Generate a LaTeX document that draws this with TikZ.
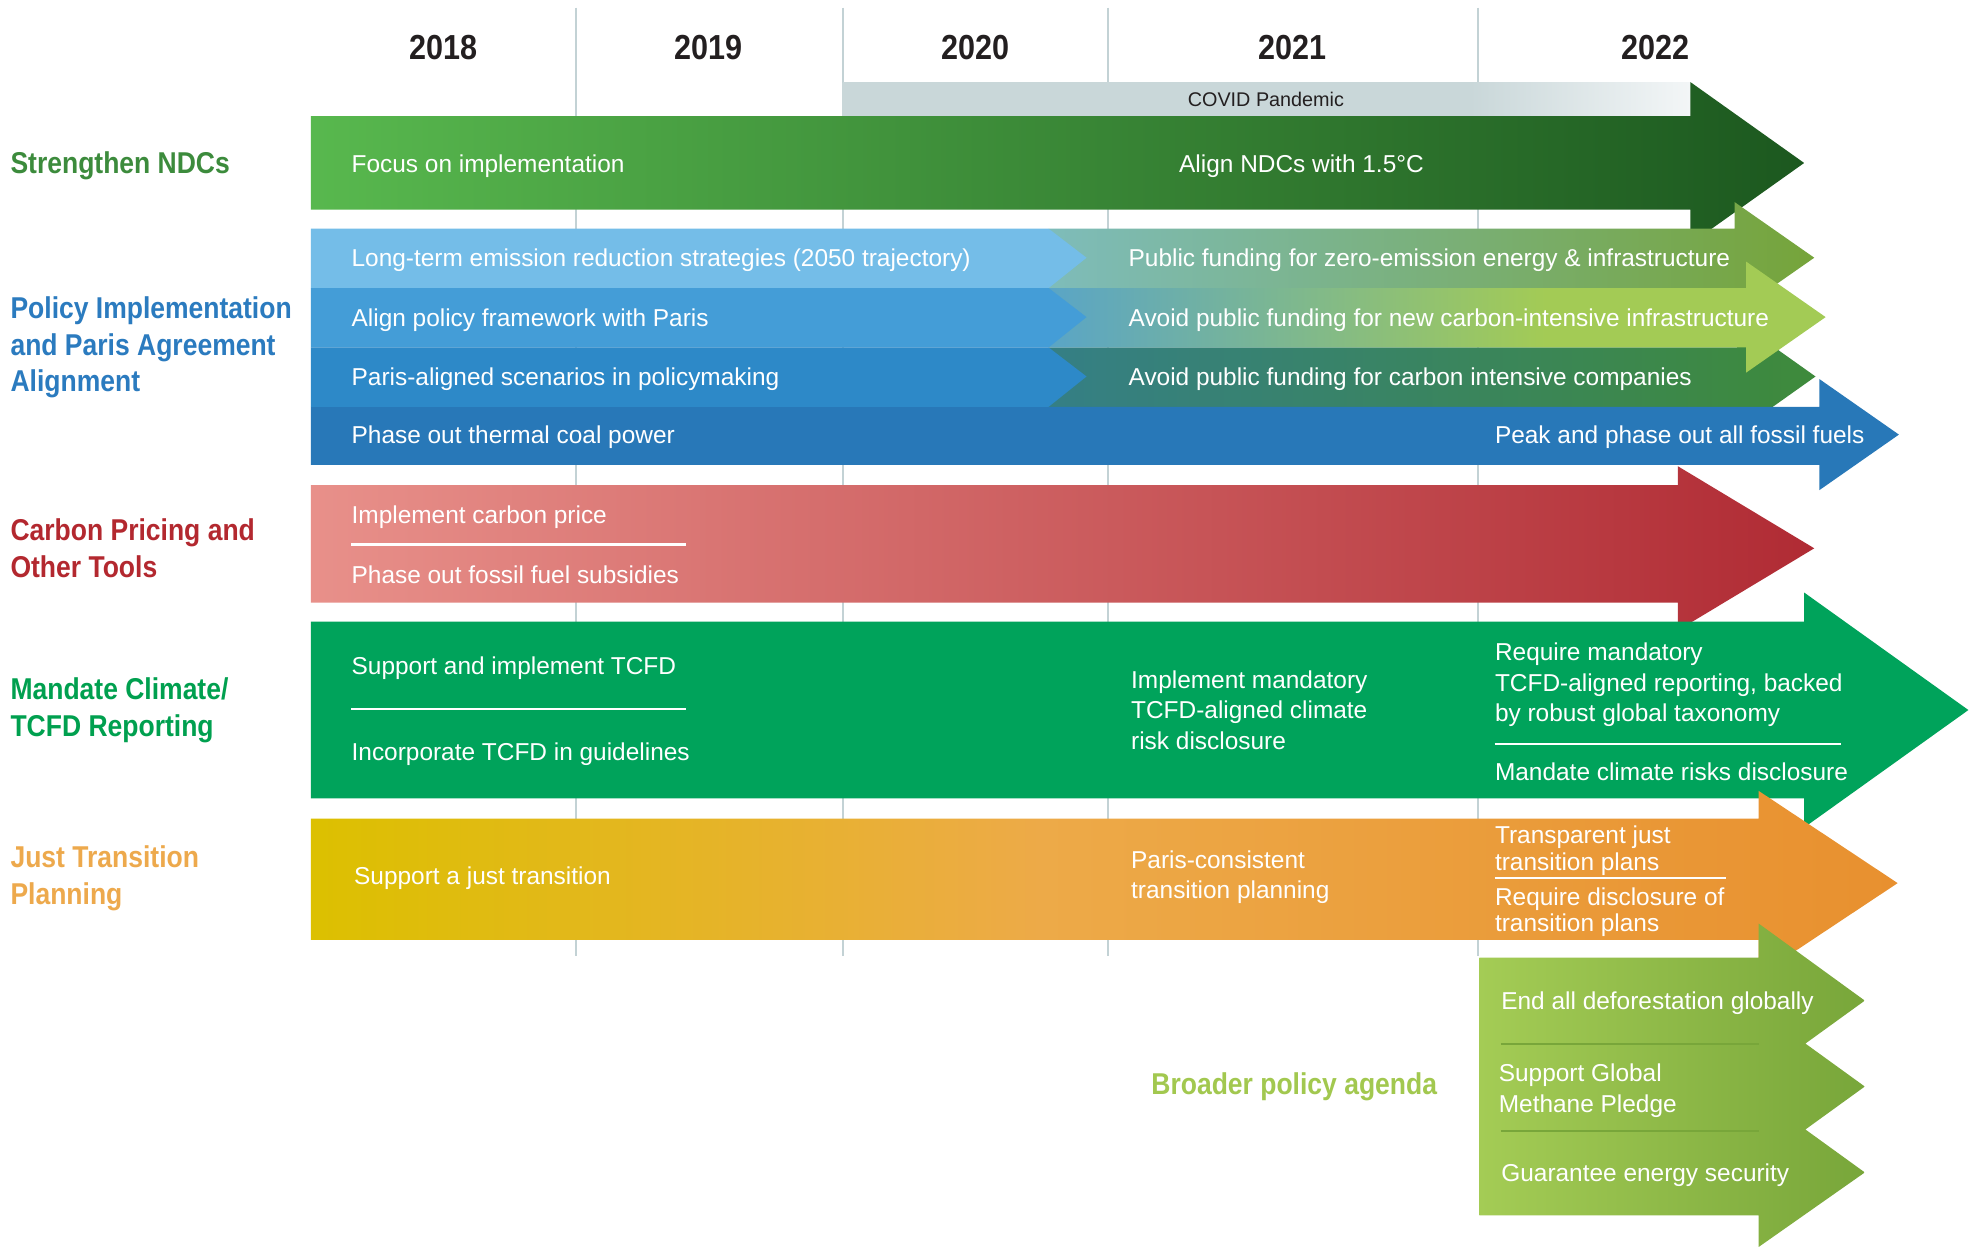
\documentclass[tikz,border=0pt]{standalone}
\usepackage{fontspec}
\setmainfont{Liberation Sans}
\newfontfamily\headfont{Liberation Sans Bold}[FakeStretch=0.88]

% Farben
\definecolor{yeartext}{HTML}{231F20}
\definecolor{gridgray}{HTML}{C3D2D5}
\definecolor{covidgray}{HTML}{C9D7D9}
\definecolor{covidend}{HTML}{F3F6F7}
\definecolor{ndcA}{HTML}{58B84E}
\definecolor{ndcB}{HTML}{3A8437}
\definecolor{ndcC}{HTML}{1C581F}
\definecolor{blueA}{HTML}{74BDE8}
\definecolor{blueB}{HTML}{449DD7}
\definecolor{blueC}{HTML}{2D89C8}
\definecolor{blueD}{HTML}{2878B8}
\definecolor{pubA}{HTML}{7EBCBA}
\definecolor{pubB}{HTML}{76A43A}
\definecolor{avoidA}{HTML}{5AA5C6}
\definecolor{avoidB}{HTML}{A3CB55}
\definecolor{compA}{HTML}{357F85}
\definecolor{compB}{HTML}{3E8A3B}
\definecolor{carbA}{HTML}{E8908A}
\definecolor{carbB}{HTML}{D3665F}
\definecolor{carbC}{HTML}{B02B34}
\definecolor{tcfdgreen}{HTML}{00A35B}
\definecolor{justA}{HTML}{DCC000}
\definecolor{justB}{HTML}{EDAA48}
\definecolor{justC}{HTML}{E8902F}
\definecolor{broadA}{HTML}{A4CC55}
\definecolor{broadB}{HTML}{78A63A}
\definecolor{lblndc}{HTML}{3C8B3C}
\definecolor{lblpolicy}{HTML}{2B7BBF}
\definecolor{lblcarbon}{HTML}{B3282F}
\definecolor{lbltcfd}{HTML}{00A04F}
\definecolor{lbljust}{HTML}{EDA94C}
\definecolor{lblbroad}{HTML}{A2C84F}

\pgfdeclarehorizontalshading{covidfade}{100bp}{color(0bp)=(covidgray); color(25bp)=(covidgray); color(62bp)=(covidgray); color(75bp)=(covidend); color(100bp)=(covidend)}
\pgfdeclarehorizontalshading{avoidshade}{100bp}{color(0bp)=(avoidA); color(25bp)=(avoidA); color(57bp)=(avoidB); color(75bp)=(avoidB); color(100bp)=(avoidB)}
\pgfdeclarehorizontalshading{justshade}{100bp}{color(0bp)=(justA); color(25bp)=(justA); color(48bp)=(justB); color(75bp)=(justC); color(100bp)=(justC)}

\begin{document}
\begin{tikzpicture}[x=0.6pt,y=-0.6pt,
  yearlbl/.style={font=\headfont\fontsize{16.5}{19}\selectfont, text=yeartext},
  grouplbl/.style={anchor=west, align=left, inner sep=0pt, yshift=-1.2pt, font=\headfont\fontsize{14.3}{17.4}\selectfont},
  bartext/.style={anchor=west, align=left, inner sep=0pt, yshift=-1.3pt, text=white, font=\fontsize{11.6}{14.4}\selectfont},
  sepline/.style={white, line width=1.1pt},
  gridline/.style={gridgray, line width=0.9pt}]

  % Rahmen
  \fill[white] (0,0) rectangle (1568,987);
  \useasboundingbox (0,0) rectangle (1568,987);

  % Jahre und Gitter
  \foreach \gx in {456,667,877,1170}
    \draw[gridline] (\gx,6) -- (\gx,757);
  \node[yearlbl] (y2018) at (351,38) {2018};
  \node[yearlbl] (y2019) at (561,38) {2019};
  \node[yearlbl] (y2020) at (772,38) {2020};
  \node[yearlbl] (y2021) at (1023,38) {2021};
  \node[yearlbl] (y2022) at (1310,38) {2022};

  % COVID
  \shade[shading=covidfade] (667,65) rectangle (1338,92);
  \node[font=\fontsize{9.4}{11}\selectfont, text=yeartext] (covid) at (1002,78.5) {COVID Pandemic};

  % Strengthen NDCs
  \shade[left color=ndcA, middle color=ndcB, right color=ndcC]
    (246,92) -- (1338,92) -- (1338,65) -- (1428,129) -- (1338,193) -- (1338,166) -- (246,166) -- cycle;
  \node[grouplbl, text=lblndc] (lndc) at (8,129) {Strengthen NDCs};
  \node[bartext] (focus) at (278,129) {Focus on implementation};
  \node[bartext] (align15) at (933,129) {Align NDCs with 1.5°C};

  % Policy Implementation
  \shade[left color=pubA, right color=pubB]
    (830,181) -- (1373,181) -- (1373,160) -- (1436,204) -- (1373,248) -- (1373,228) -- (830,228) -- cycle;
  \shade[left color=compA, right color=compB]
    (830,275) -- (1375,275) -- (1375,254) -- (1437,298) -- (1375,342) -- (1375,322) -- (830,322) -- cycle;
  \shade[shading=avoidshade]
    (830,228) -- (1382,228) -- (1382,207) -- (1445,251) -- (1382,295) -- (1382,275) -- (830,275) -- cycle;
  \fill[blueD] (246,322) -- (1440,322) -- (1440,300) -- (1503,344) -- (1440,388) -- (1440,368) -- (246,368) -- cycle;
  \fill[blueA] (246,181) -- (830,181) -- (860,204) -- (830,228) -- (246,228) -- cycle;
  \fill[blueB] (246,228) -- (830,228) -- (860,251) -- (830,275) -- (246,275) -- cycle;
  \fill[blueC] (246,275) -- (830,275) -- (860,298) -- (830,322) -- (246,322) -- cycle;
  \node[grouplbl, text=lblpolicy] (lpolicy) at (8,273) {Policy Implementation\\and Paris Agreement\\Alignment};
  \node[bartext] (longterm) at (278,204) {Long-term emission reduction strategies (2050 trajectory)};
  \node[bartext] (pubfund) at (893,204) {Public funding for zero-emission energy \& infrastructure};
  \node[bartext] (framework) at (278,251) {Align policy framework with Paris};
  \node[bartext] (avoidinfra) at (893,251) {Avoid public funding for new carbon-intensive infrastructure};
  \node[bartext] (scenarios) at (278,298) {Paris-aligned scenarios in policymaking};
  \node[bartext] (avoidcomp) at (893,298) {Avoid public funding for carbon intensive companies};
  \node[bartext] (coal) at (278,344) {Phase out thermal coal power};
  \node[bartext] (fossil) at (1183,344) {Peak and phase out all fossil fuels};

  % Carbon Pricing
  \shade[left color=carbA, middle color=carbB, right color=carbC]
    (246,384) -- (1328,384) -- (1328,369) -- (1436,434) -- (1328,499) -- (1328,477) -- (246,477) -- cycle;
  \node[grouplbl, text=lblcarbon] (lcarbon) at (8,432) {Carbon Pricing and\\Other Tools};
  \node[bartext] (cprice) at (278,407) {Implement carbon price};
  \draw[sepline] (278,431) -- (543,431);
  \node[bartext] (subsidies) at (278,453) {Phase out fossil fuel subsidies};

  % TCFD
  \fill[tcfdgreen] (246,492) -- (1428,492) -- (1428,469) -- (1558,562) -- (1428,655) -- (1428,632) -- (246,632) -- cycle;
  \node[grouplbl, text=lbltcfd] (ltcfd) at (8,560) {Mandate Climate/\\TCFD Reporting};
  \node[bartext] (tcfdsupport) at (278,527) {Support and implement TCFD};
  \draw[sepline] (278,561) -- (543,561);
  \node[bartext] (tcfdguide) at (278,595) {Incorporate TCFD in guidelines};
  \node[bartext] (tcfdimpl) at (895,560) {Implement mandatory\\TCFD-aligned climate\\risk disclosure};
  \node[bartext] (tcfdreq) at (1183,540) {Require mandatory\\TCFD-aligned reporting, backed\\by robust global taxonomy};
  \draw[sepline] (1183,589) -- (1457,589);
  \node[bartext] (tcfdrisk) at (1183,609) {Mandate climate risks disclosure};

  % Just Transition
  \shade[shading=justshade]
    (246,648) -- (1392,648) -- (1392,626) -- (1502,699) -- (1392,772) -- (1392,744) -- (246,744) -- cycle;
  \node[grouplbl, text=lbljust] (ljust) at (8,693) {Just Transition\\Planning};
  \node[bartext] (justsupport) at (280,693) {Support a just transition};
  \node[bartext] (justparis) at (895,692) {Paris-consistent\\transition planning};
  \node[bartext, font=\fontsize{11.6}{12.6}\selectfont] (justtransp) at (1183,671) {Transparent just\\transition plans};
  \draw[sepline] (1183,695) -- (1366,695);
  \node[bartext, font=\fontsize{11.6}{12.6}\selectfont] (justdiscl) at (1183,720) {Require disclosure of\\transition plans};

  % Broader policy agenda
  \shade[left color=broadA, right color=broadB]
    (1171,758) -- (1392,758) -- (1392,731) -- (1476,792) -- (1429,826) -- (1476,860) -- (1429,894)
    -- (1476,928) -- (1392,987) -- (1392,962) -- (1171,962) -- cycle;
  \draw[broadB, line width=1pt] (1188,826) -- (1392,826);
  \draw[broadB, line width=1pt] (1188,895) -- (1392,895);
  \node[grouplbl, text=lblbroad] (lbroad) at (911,858) {Broader policy agenda};
  \node[bartext] (deforest) at (1188,792) {End all deforestation globally};
  \node[bartext] (methane) at (1186,861) {Support Global\\Methane Pledge};
  \node[bartext] (security) at (1188,928) {Guarantee energy security};
\end{tikzpicture}
\end{document}
